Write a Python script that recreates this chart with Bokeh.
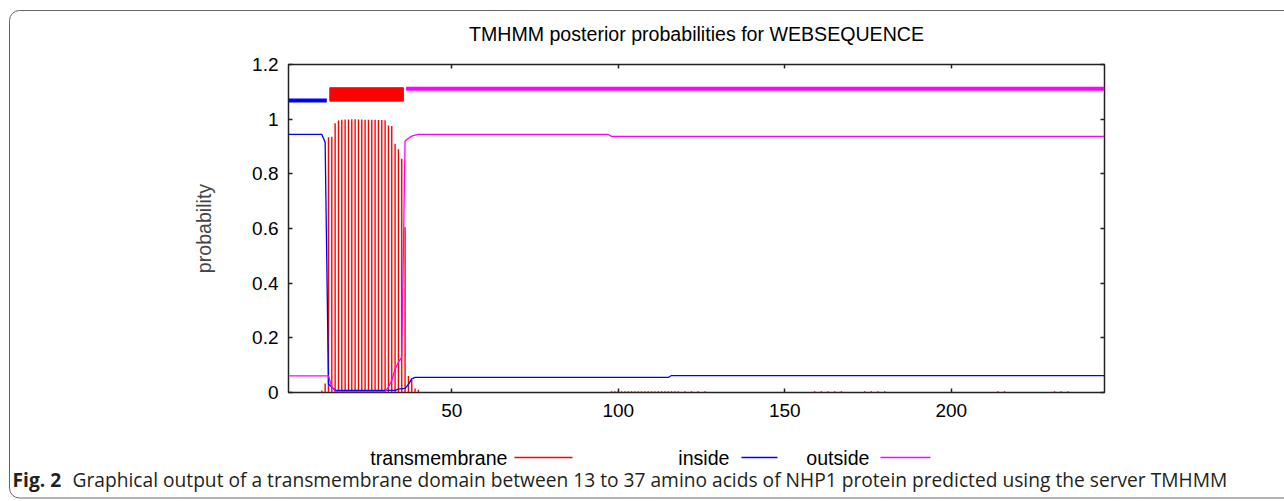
from bokeh.plotting import figure
from bokeh.models import Range1d, FixedTicker, LinearAxis
from bokeh.layouts import column
from bokeh.core.properties import value
from bokeh.embed import file_html
from bokeh.resources import INLINE

# ---------------- data ----------------
seq_start, seq_end = 1, 246

inside_x = [1, 11, 12, 13, 14, 15, 33, 34, 36, 37, 38, 39, 115, 116, 246]
inside_y = [0.944, 0.944, 0.916, 0.03, 0.02, 0.008, 0.008, 0.012, 0.015, 0.03, 0.05, 0.055, 0.055, 0.062, 0.062]

outside_x = [1, 13, 14, 15, 16, 30, 31, 32, 33, 34, 35, 36, 37, 38, 39, 40, 97, 98, 246]
outside_y = [0.061, 0.061, 0.02, 0.005, 0.003, 0.003, 0.02, 0.045, 0.085, 0.11, 0.13, 0.92, 0.93,
             0.938, 0.942, 0.944, 0.944, 0.937, 0.937]

tm_pos = [11, 12, 13, 14, 15, 16, 17, 18, 19, 20, 21, 22, 23, 24, 25, 26, 27, 28, 29, 30,
          31, 32, 33, 34, 35, 36, 37, 38, 39, 40]
tm_prob = [0.007, 0.033, 0.934, 0.936, 0.985, 0.995, 0.998, 0.999, 0.999, 1.0, 1.0, 0.999, 0.999,
           0.998, 0.998, 0.998, 0.998, 0.997, 0.997, 0.996, 0.977, 0.975, 0.91, 0.89, 0.855,
           0.605, 0.06, 0.047, 0.015, 0.01]

tm_small_pos = [98, 99, 100, 101, 102, 103, 104, 105, 106, 107, 108, 109, 110, 111, 112, 113, 114,
                115, 116, 117, 118, 120, 122, 124, 126, 159, 161, 163, 165, 167, 174, 176, 178, 180,
                214, 216, 231, 233, 235]
tm_small_prob = [0.005] * len(tm_small_pos)

inside_seg = (1, 12)
tm_seg = (13, 35)
outside_seg = (36, 246)

y_ticks = [0, 0.2, 0.4, 0.6, 0.8, 1.0, 1.2]
y_tick_labels = ["0", "0.2", "0.4", "0.6", "0.8", "1", "1.2"]
x_ticks = [50, 100, 150, 200]

title_text = "TMHMM posterior probabilities for WEBSEQUENCE"
legend_names = ["transmembrane", "inside", "outside"]
caption_bold = "Fig. 2"
caption_text = ("Graphical output of a transmembrane domain between 13 to 37 amino acids of NHP1 "
                "protein predicted using the server TMHMM")

# ---------------- styles / layout (page pixels) ----------------
RED, BLUE, MAG = "#ff0000", "#0000ff", "#ff00ff"
FONT = "Liberation Sans"
FS = "19px"
FS_BIG = "19.6px"
W, H = 1284, 501
FL, FR, FT, FB = 288, 1104, 64, 392       # plot frame in page pixels
SPLIT = 430                               # page y where the legend strip starts

p = figure(width=W, height=SPLIT, output_backend="svg", toolbar_location=None,
           x_range=Range1d(seq_start, seq_end), y_range=Range1d(0, 1.2),
           min_border_left=FL, min_border_right=W - FR, min_border_top=FT,
           min_border_bottom=SPLIT - FB, x_axis_type=None, y_axis_type=None)
p.background_fill_color = "white"
p.border_fill_color = None
p.outline_line_color = "#222222"
p.outline_line_width = 1.5
p.grid.visible = False

p.title.text = title_text
p.title.align = "center"
p.title.text_font = FONT
p.title.text_font_size = FS_BIG
p.title.text_font_style = "normal"
p.title.text_color = "black"
p.title.standoff = 40


def style_axis(ax, labels=True):
    ax.axis_line_color = None
    ax.major_tick_in = 4
    ax.major_tick_out = 0
    ax.minor_tick_line_color = None
    ax.major_tick_line_color = "#222222"
    ax.major_tick_line_width = 1.5
    ax.major_label_text_font = FONT
    ax.major_label_text_font_size = FS
    ax.major_label_text_color = "black" if labels else None
    ax.major_label_standoff = 10


ax_b = LinearAxis(ticker=FixedTicker(ticks=x_ticks))
style_axis(ax_b)
ax_b.major_label_standoff = 11
p.add_layout(ax_b, "below")
ax_t = LinearAxis(ticker=FixedTicker(ticks=x_ticks))
style_axis(ax_t, labels=False)
p.add_layout(ax_t, "above")

ax_l = LinearAxis(ticker=FixedTicker(ticks=y_ticks),
                  major_label_overrides={t: s for t, s in zip(y_ticks, y_tick_labels)})
style_axis(ax_l)
ax_l.axis_label = "probability"
ax_l.axis_label_text_font = FONT
ax_l.axis_label_text_font_size = FS_BIG
ax_l.axis_label_text_font_style = "normal"
ax_l.axis_label_standoff = 34
p.add_layout(ax_l, "left")
ax_r = LinearAxis(ticker=FixedTicker(ticks=y_ticks))
style_axis(ax_r, labels=False)
p.add_layout(ax_r, "right")

# ---------------- marks ----------------
p.segment(x0=tm_pos, y0=[0] * len(tm_pos), x1=tm_pos, y1=tm_prob, line_color=RED, line_width=1.4)
p.segment(x0=tm_small_pos, y0=[0] * len(tm_small_pos), x1=tm_small_pos, y1=tm_small_prob,
          line_color=RED, line_width=1.4)
p.line(inside_x, inside_y, line_color=BLUE, line_width=1.3)
p.line(outside_x, outside_y, line_color=MAG, line_width=1.3)

# topology bars
p.segment(x0=[inside_seg[0]], x1=[inside_seg[1] + 0.5], y0=[1.068], y1=[1.068],
          line_color=BLUE, line_width=4, line_cap="butt")
p.quad(left=[tm_seg[0] + 0.4], right=[tm_seg[1] + 0.5], bottom=[1.066], top=[1.115],
       fill_color=RED, line_color=RED, line_width=1)
p.segment(x0=[outside_seg[0] + 0.3], x1=[outside_seg[1]], y0=[1.111], y1=[1.111],
          line_color=MAG, line_width=4, line_cap="butt")

# ---------------- legend + caption strip (page-pixel coordinates) ----------------
q = figure(width=W, height=H - SPLIT, output_backend="svg", toolbar_location=None,
           x_range=Range1d(0, W), y_range=Range1d(H, SPLIT),
           min_border=0, x_axis_type=None, y_axis_type=None)
q.outline_line_color = None
q.grid.visible = False
q.background_fill_color = None
q.border_fill_color = None
for fig in (p, q):
    try:
        fig.frame_align = False
    except Exception:
        pass

leg_y = 457
leg_text_right = [507, 729, 869]
leg_line = [(514, 572), (741, 777), (880, 930)]
leg_cols = [RED, BLUE, MAG]
q.text(x=leg_text_right, y=[leg_y] * 3, text=legend_names, text_align="right",
       text_baseline="middle", text_font=value(FONT), text_font_size=value(FS_BIG),
       text_color="black")
q.segment(x0=[a for a, b in leg_line], x1=[b for a, b in leg_line], y0=[leg_y] * 3, y1=[leg_y] * 3,
          line_color=leg_cols, line_width=1.3)

cap_y = 479
q.text(x=[12], y=[cap_y], text=[caption_bold], text_align="left", text_baseline="middle",
       text_font=value("Open Sans"), text_font_size=value("19.2px"), text_font_style="bold",
       text_color="#231f20")
q.text(x=[72], y=[cap_y], text=[caption_text], text_align="left", text_baseline="middle",
       text_font=value("Open Sans"), text_font_size=value("19.2px"), text_color="#231f20")

frame_svg = ("url(\"data:image/svg+xml;utf8,<svg xmlns='http://www.w3.org/2000/svg' width='1284' "
             "height='501'><rect x='9.5' y='10.5' width='1400' height='487.5' rx='10' ry='10' "
             "fill='none' stroke='%23666666' stroke-width='1'/></svg>\")")
layout = column(p, q, spacing=0,
                styles={"background-image": frame_svg, "background-repeat": "no-repeat",
                        "background-color": "white"})

open("out.html", "w").write(file_html(layout, INLINE))
